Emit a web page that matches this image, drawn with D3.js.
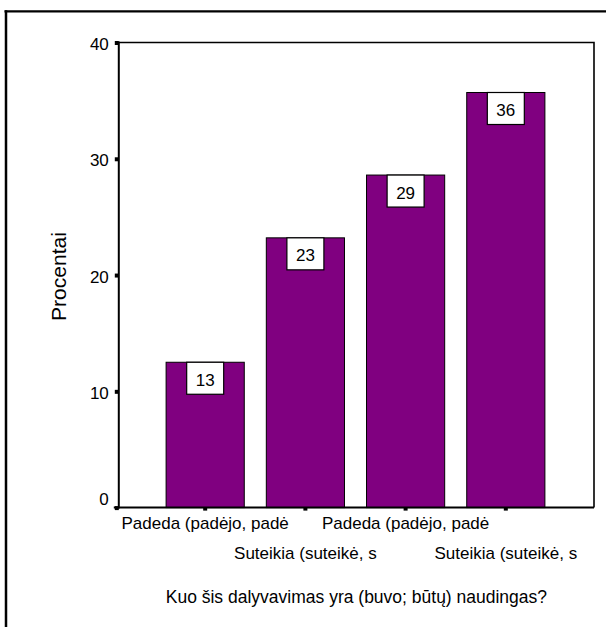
<!DOCTYPE html>
<html><head><meta charset="utf-8">
<script src="https://cdn.jsdelivr.net/npm/d3@7"></script>
<style>body{margin:0;background:#fff}svg{display:block}text{font-family:"Liberation Sans",Arial,sans-serif;fill:#000}</style>
</head><body>
<script>
const categories = ["Padeda (padėjo, padė 1", "Suteikia (suteikė, s 1", "Padeda (padėjo, padė 2", "Suteikia (suteikė, s 2"];
const categoryLabels = ["Padeda (padėjo, padė", "Suteikia (suteikė, s", "Padeda (padėjo, padė", "Suteikia (suteikė, s"];
const values = [12.5, 23.2, 28.6, 35.7];
const valueLabels = ["13", "23", "29", "36"];
const yTicks = [0, 10, 20, 30, 40];
const yTitle = "Procentai";
const xTitle = "Kuo šis dalyvavimas yra (buvo; būtų) naudingas?";

const W = 606, H = 627;
const svg = d3.select("body").append("svg").attr("width", W).attr("height", H);

// outer frame
svg.append("line").attr("x1", 4.5).attr("x2", W).attr("y1", 11.3).attr("y2", 11.3).attr("stroke", "#000").attr("stroke-width", 2.2);
svg.append("line").attr("x1", 6).attr("x2", 6).attr("y1", 10.2).attr("y2", H).attr("stroke", "#000").attr("stroke-width", 2.5);

const L = 118.8, R = 594, T = 42.5, B = 507.6;
const x = d3.scaleBand().domain(categories).range([117, 594]).paddingInner(0.22).paddingOuter(0.49);
const y = d3.scaleLinear().domain([0, 40]).range([B, T]);

// plot frame top/right
svg.append("path").attr("d", `M${L},${T}H${R}V${B}`).attr("fill", "none").attr("stroke", "#000").attr("stroke-width", 1.6);

// bars
svg.append("g").selectAll("rect").data(values).join("rect")
  .attr("x", (d, i) => x(categories[i]))
  .attr("width", x.bandwidth())
  .attr("y", d => y(d))
  .attr("height", d => B - y(d))
  .attr("fill", "#800080").attr("stroke", "#000").attr("stroke-width", 1);

// value label boxes
const lg = svg.append("g").selectAll("g").data(values).join("g")
  .attr("transform", (d, i) => `translate(${x(categories[i]) + x.bandwidth() / 2},${y(d)})`);
lg.append("rect").attr("x", -18.5).attr("y", 0).attr("width", 37).attr("height", 32)
  .attr("fill", "#fff").attr("stroke", "#000").attr("stroke-width", 1.2);
lg.append("text").attr("text-anchor", "middle").attr("y", 23.6).attr("font-size", 17)
  .text((d, i) => valueLabels[i]);

// y axis
const ya = svg.append("g").attr("transform", `translate(${L},0)`)
  .call(d3.axisLeft(y).tickValues(yTicks).tickSize(4).tickPadding(6).tickFormat(d3.format("d")));
ya.select(".domain").attr("stroke", "#000").attr("stroke-width", 2).attr("d", `M0,${T - 1}V${B + 1}`);
ya.selectAll(".tick line").attr("stroke", "#000").attr("stroke-width", 4);
ya.selectAll(".tick text").attr("font-size", 17).attr("font-family", "Liberation Sans, Arial, sans-serif")
  .attr("dy", d => d === 0 ? "-0.2em" : "0.42em");

// x axis
const xa = svg.append("g").attr("transform", `translate(0,${B})`)
  .call(d3.axisBottom(x).tickSize(3).tickFormat(() => ""));
xa.select(".domain").attr("stroke", "#000").attr("stroke-width", 2).attr("d", `M${L - 5},0H${R}`);
xa.selectAll(".tick line").attr("stroke", "#000").attr("stroke-width", 4);
xa.selectAll(".tick text").remove();

// staggered category labels
svg.append("g").selectAll("text").data(categoryLabels).join("text")
  .attr("x", (d, i) => x(categories[i]) + x.bandwidth() / 2)
  .attr("y", (d, i) => i % 2 === 0 ? 529.3 : 559.3)
  .attr("text-anchor", "middle").attr("font-size", 17)
  .text(d => d);

// axis titles
svg.append("text").attr("transform", `translate(66,${(T + B) / 2 + 1.5}) rotate(-90)`)
  .attr("text-anchor", "middle").attr("font-size", 21).text(yTitle);
svg.append("text").attr("x", (L + R) / 2).attr("y", 603).attr("text-anchor", "middle")
  .attr("font-size", 17.5).text(xTitle);
</script>
</body></html>
